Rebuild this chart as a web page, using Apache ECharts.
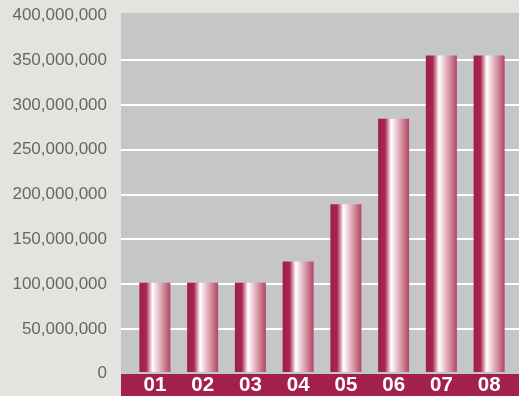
<!DOCTYPE html>
<html><head><meta charset="utf-8">
<script src="https://cdn.jsdelivr.net/npm/echarts@6/dist/echarts.min.js"></script>
<style>html,body{margin:0;padding:0;background:#e3e4e0;}#c{width:519px;height:396px;}</style>
</head><body><div id="c"></div>
<script>
var categories = ['01','02','03','04','05','06','07','08'];
var values = [100000000, 100000000, 100000000, 124000000, 188000000, 284000000, 355000000, 355000000];
var yMin = 0, yMax = 400000000, yStep = 50000000;

var chart = echarts.init(document.getElementById('c'), null, {renderer:'canvas'});
var gridTop = 15.3, gridBottom = 22.4;
var barGrad = new echarts.graphic.LinearGradient(0,0,1,0,[
  {offset:0, color:'#a01f4a'},
  {offset:0.22, color:'#a62651'},
  {offset:0.33, color:'#d89aaa'},
  {offset:0.42, color:'#ffffff'},
  {offset:0.55, color:'#f1d6dc'},
  {offset:0.8, color:'#cf8598'},
  {offset:1, color:'#b04564'}
]);
chart.setOption({
  backgroundColor:'#e3e4e0',
  animation:false,
  graphic:[
    {type:'rect', z:-10, shape:{x:121,y:13,width:398,height:361}, style:{fill:'#c5c6c8'}},
    {type:'rect', z:-10, shape:{x:121,y:374,width:398,height:22}, style:{fill:'#a3204c'}}
  ],
  grid:[
    {left:121, right:0, top:gridTop, bottom:gridBottom},
    {left:131, right:6, top:gridTop, bottom:gridBottom}
  ],
  xAxis:[
    {gridIndex:0, type:'category', data:categories, show:false},
    {gridIndex:1, type:'category', data:categories,
     axisLine:{show:false}, axisTick:{show:false},
     axisLabel:{color:'#ffffff', fontWeight:'bold', fontSize:20.5, fontFamily:'Liberation Sans, Arial, sans-serif', margin:3}}
  ],
  yAxis:[
    {gridIndex:0, type:'value', min:yMin, max:yMax, interval:yStep,
     axisLine:{show:false}, axisTick:{show:false},
     splitLine:{show:true, showMaxLine:false, showMinLine:false, lineStyle:{color:'#ffffff', width:2}},
     axisLabel:{color:'#666666', fontSize:17, fontFamily:'Liberation Sans, Arial, sans-serif', margin:14,
       formatter:function(v){return v.toLocaleString('en-US');}}},
    {gridIndex:1, type:'value', min:yMin, max:yMax, interval:yStep, show:false, splitLine:{show:false}}
  ],
  series:[{
    type:'bar', xAxisIndex:1, yAxisIndex:1, data:values, barWidth:31,
    itemStyle:{color:barGrad}
  }]
});
</script></body></html>
